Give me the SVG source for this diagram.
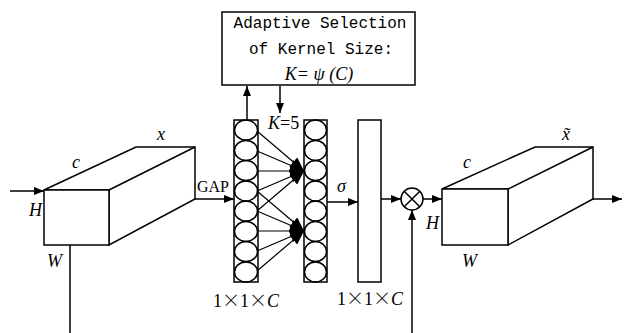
<svg xmlns="http://www.w3.org/2000/svg" width="625" height="333" viewBox="0 0 625 333">
<style>
.ln{stroke:#000;stroke-width:1.5;fill:none}
.sh{stroke:#000;stroke-width:1.5;fill:#fff}
.it{font-family:"Liberation Serif",serif;font-style:italic;font-size:18px;fill:#000}
.rm{font-family:"Liberation Serif",serif;font-size:16px;fill:#000}
.dim{font-family:"Liberation Serif","Noto Sans CJK SC",serif;font-size:18px;fill:#000}
.x{font-family:"Noto Sans CJK SC",sans-serif;font-weight:300}
.mono{font-family:"Liberation Mono",monospace;font-size:16px;fill:#000}
</style>
<defs>
<marker id="ah" viewBox="0 0 10 8" refX="10" refY="4" markerWidth="10" markerHeight="8" markerUnits="userSpaceOnUse" orient="auto">
<path d="M0,0 L10,4 L0,8 Z" fill="#000"/>
</marker>
<marker id="ahb" viewBox="0 0 14 12" refX="14" refY="6" markerWidth="14" markerHeight="12" markerUnits="userSpaceOnUse" orient="auto">
<path d="M0,0 L14,6 L0,12 Z" fill="#000"/>
</marker>
</defs>

<g id="input-tensor">
<path class="sh" d="M44,190 L136,147 L195,147 L195,199 L109,245 L109,190 Z"/>
<path class="ln" d="M109,190 L195,147"/>
<rect class="sh" x="44" y="190" width="65" height="55"/>
<text class="it" x="72" y="168">c</text>
<text class="it" x="157" y="140">x</text>
<text class="it" x="29" y="216">H</text>
<text class="it" x="47" y="267">W</text>
</g>

<g id="selection-box">
<rect class="sh" x="222" y="12" width="193" height="73"/>
<text class="mono" x="320" y="28" text-anchor="middle">Adaptive Selection</text>
<text class="mono" x="321" y="54" text-anchor="middle">of Kernel Size:</text>
<text class="it" x="319" y="80" text-anchor="middle" font-size="17">K= ψ (C)</text>
</g>

<g id="column1">
<rect class="sh" x="234" y="120" width="24" height="162"/>
<ellipse class="ln" cx="246" cy="130.1" rx="11.5" ry="10"/>
<ellipse class="ln" cx="246" cy="150.4" rx="11.5" ry="10"/>
<ellipse class="ln" cx="246" cy="170.6" rx="11.5" ry="10"/>
<ellipse class="ln" cx="246" cy="190.9" rx="11.5" ry="10"/>
<ellipse class="ln" cx="246" cy="211.1" rx="11.5" ry="10"/>
<ellipse class="ln" cx="246" cy="231.4" rx="11.5" ry="10"/>
<ellipse class="ln" cx="246" cy="251.6" rx="11.5" ry="10"/>
<ellipse class="ln" cx="246" cy="271.9" rx="11.5" ry="10"/>
<text class="dim" x="213" y="307">1<tspan class="x">×</tspan>1<tspan class="x">×</tspan><tspan font-style="italic">C</tspan></text>
</g>

<g id="column2">
<rect class="sh" x="304" y="120" width="23" height="162"/>
<ellipse class="ln" cx="315.5" cy="130.1" rx="11" ry="10"/>
<ellipse class="ln" cx="315.5" cy="150.4" rx="11" ry="10"/>
<ellipse class="ln" cx="315.5" cy="170.6" rx="11" ry="10"/>
<ellipse class="ln" cx="315.5" cy="190.9" rx="11" ry="10"/>
<ellipse class="ln" cx="315.5" cy="211.1" rx="11" ry="10"/>
<ellipse class="ln" cx="315.5" cy="231.4" rx="11" ry="10"/>
<ellipse class="ln" cx="315.5" cy="251.6" rx="11" ry="10"/>
<ellipse class="ln" cx="315.5" cy="271.9" rx="11" ry="10"/>
</g>

<g id="weights-bar">
<rect class="sh" x="358" y="120" width="23" height="162"/>
<text class="dim" x="337" y="305">1<tspan class="x">×</tspan>1<tspan class="x">×</tspan><tspan font-style="italic">C</tspan></text>
</g>

<g id="multiply">
<circle class="sh" cx="412" cy="199" r="11"/>
<path class="ln" d="M404.2,191.2 L419.8,206.8 M419.8,191.2 L404.2,206.8"/>
</g>

<g id="output-tensor">
<path class="sh" d="M442,189 L535,147 L593,147 L593,199 L508,245 L508,189 Z"/>
<path class="ln" d="M508,189 L593,147"/>
<rect class="sh" x="442" y="189" width="66" height="56"/>
<text class="it" x="463" y="168">c</text>
<text class="it" x="562" y="140">x̃</text>
<text class="it" x="426" y="229">H</text>
<text class="it" x="462" y="267">W</text>
</g>

<g id="connectors">
<line class="ln" x1="10" y1="191" x2="44" y2="191" marker-end="url(#ah)"/>
<line class="ln" x1="195" y1="199" x2="234" y2="199" marker-end="url(#ah)"/>
<text class="rm" x="197" y="192">GAP</text>
<line class="ln" x1="247" y1="120" x2="247" y2="86" marker-end="url(#ah)"/>
<line class="ln" x1="280" y1="86" x2="280" y2="113" marker-end="url(#ah)"/>
<text class="it" x="268" y="129" font-size="16"><tspan>K</tspan><tspan font-style="normal">=5</tspan></text>
<g stroke="#000" stroke-width="1.2">
<line x1="257" y1="131" x2="304" y2="171" marker-end="url(#ahb)"/>
<line x1="257" y1="151" x2="304" y2="171" marker-end="url(#ahb)"/>
<line x1="257" y1="171" x2="304" y2="171" marker-end="url(#ahb)"/>
<line x1="257" y1="191" x2="304" y2="171" marker-end="url(#ahb)"/>
<line x1="257" y1="211" x2="304" y2="171" marker-end="url(#ahb)"/>
<line x1="257" y1="191" x2="304" y2="231" marker-end="url(#ahb)"/>
<line x1="257" y1="211" x2="304" y2="231" marker-end="url(#ahb)"/>
<line x1="257" y1="231" x2="304" y2="231" marker-end="url(#ahb)"/>
<line x1="257" y1="251" x2="304" y2="231" marker-end="url(#ahb)"/>
<line x1="257" y1="271" x2="304" y2="231" marker-end="url(#ahb)"/>
</g>
<line class="ln" x1="327" y1="202" x2="358" y2="202" marker-end="url(#ah)"/>
<text class="it" x="337" y="192" font-size="16">σ</text>
<line class="ln" x1="381" y1="199" x2="401" y2="199" marker-end="url(#ah)"/>
<line class="ln" x1="423" y1="199" x2="442" y2="199" marker-end="url(#ah)"/>
<line class="ln" x1="593" y1="199" x2="622" y2="199" marker-end="url(#ah)"/>
<line class="ln" x1="70" y1="245" x2="70" y2="333"/>
<line class="ln" x1="412" y1="333" x2="412" y2="210" marker-end="url(#ah)"/>
</g>
</svg>
